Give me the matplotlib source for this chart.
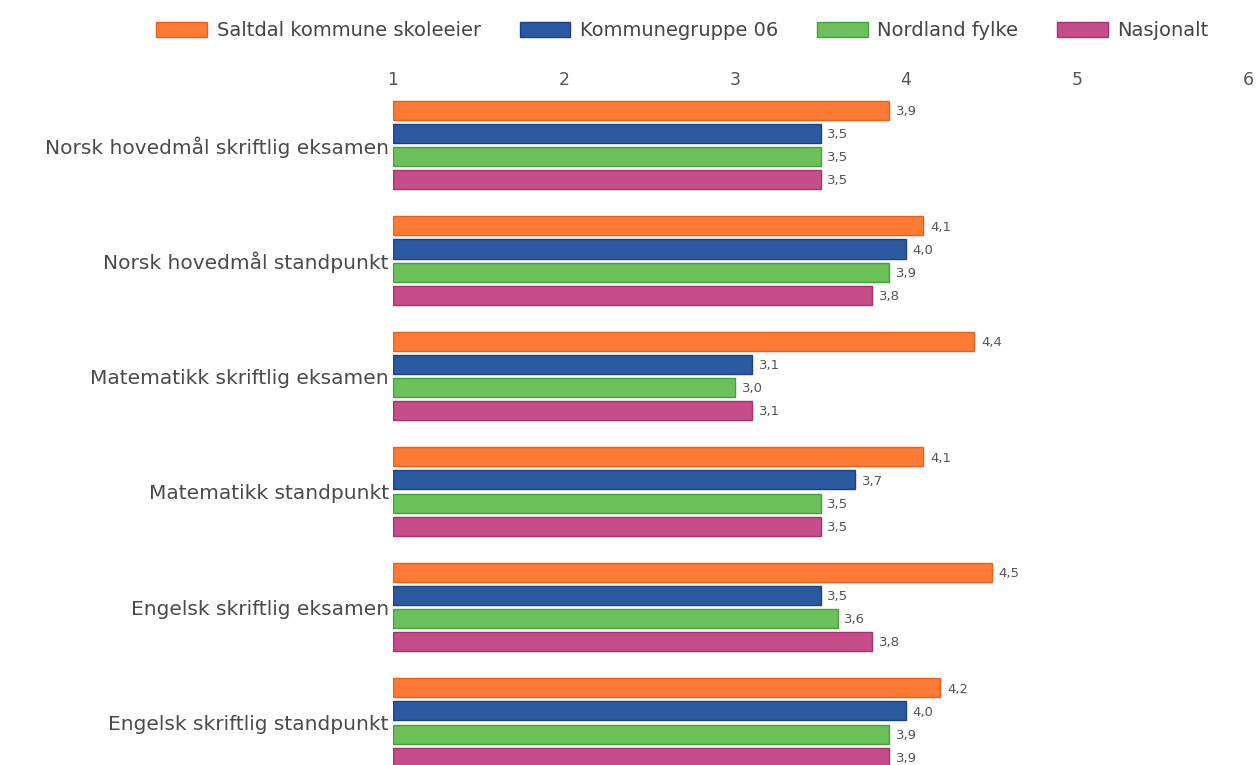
import numpy as np
import matplotlib.pyplot as plt
from matplotlib.patches import Patch

categories = ['Norsk hovedmål skriftlig eksamen', 'Norsk hovedmål standpunkt',
              'Matematikk skriftlig eksamen', 'Matematikk standpunkt',
              'Engelsk skriftlig eksamen', 'Engelsk skriftlig standpunkt']
series_names = ['Saltdal kommune skoleeier', 'Kommunegruppe 06', 'Nordland fylke', 'Nasjonalt']
saltdal = [3.9, 4.1, 4.4, 4.1, 4.5, 4.2]
kommunegruppe = [3.5, 4.0, 3.1, 3.7, 3.5, 4.0]
nordland = [3.5, 3.9, 3.0, 3.5, 3.6, 3.9]
nasjonalt = [3.5, 3.8, 3.1, 3.5, 3.8, 3.9]
x_ticks = [1, 2, 3, 4, 5, 6]

colors = ['#FF7A35', '#2C5AA0', '#6CC05A', '#C44D8A']
edges = ['#E8601A', '#1C3F85', '#3FA33A', '#A8306E']

fig = plt.figure(figsize=(12.57, 7.65), dpi=100)
ax = fig.add_axes([393/1257, 0, 855/1257, (765-97)/765])

y = np.arange(len(categories))
offsets = [-0.3, -0.1, 0.1, 0.3]
for k, vals in enumerate([saltdal, kommunegruppe, nordland, nasjonalt]):
    vals = np.array(vals)
    ax.barh(y + offsets[k], vals - 1, left=1, height=0.165,
            color=colors[k], edgecolor=edges[k], linewidth=1)
    for yi, v in zip(y, vals):
        ax.text(v + 0.04, yi + offsets[k] + 0.01, f'{v:.1f}'.replace('.', ','),
                va='center', ha='left', fontsize=9.5, color='#555555')

ax.set_xlim(1, 6)
ax.set_ylim(5.368, -0.416)
ax.set_yticks(y)
ax.set_yticklabels(categories, fontsize=14.5, color='#4a4a4a')
ax.set_xticks(x_ticks)
ax.xaxis.tick_top()
ax.tick_params(axis='x', length=0, labelsize=12.5, labelcolor='#555555', pad=6)
ax.tick_params(axis='y', length=0, pad=3)
for s in ax.spines.values():
    s.set_visible(False)

handles = [Patch(facecolor=c, edgecolor=e) for c, e in zip(colors, edges)]
fig.legend(handles, series_names, loc='upper center', bbox_to_anchor=(0.543, 0.995),
           ncol=4, frameon=False, fontsize=14, handlelength=2.6, handleheight=0.85,
           columnspacing=2.0, handletextpad=0.5, labelcolor='#444444')

fig.savefig('out.png', dpi=100)
